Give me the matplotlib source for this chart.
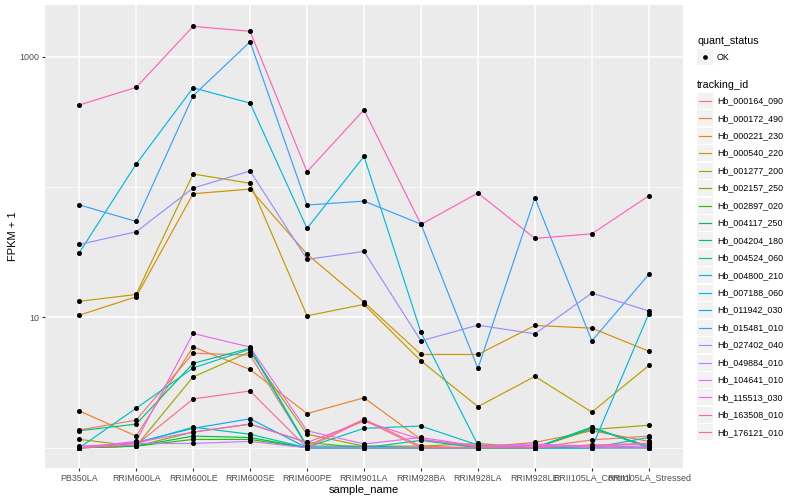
import numpy as np
import matplotlib.pyplot as plt
from matplotlib.patches import Rectangle
from matplotlib.lines import Line2D

plt.rcParams['font.family'] = ['Liberation Sans', 'DejaVu Sans']

samples = ["PB350LA", "RRIM600LA", "RRIM600LE", "RRIM600SE", "RRIM600PE",
           "RRIM901LA", "RRIM928BA", "RRIM928LA", "RRIM928LE",
           "RRII105LA_Control", "RRII105LA_Stressed"]

tracking_ids = ["Hb_000164_090", "Hb_000172_490", "Hb_000221_230", "Hb_000540_220",
                "Hb_001277_200", "Hb_002157_250", "Hb_002897_020", "Hb_004117_250",
                "Hb_004204_180", "Hb_004524_060", "Hb_004800_210", "Hb_007188_060",
                "Hb_011942_030", "Hb_015481_010", "Hb_027402_040", "Hb_049884_010",
                "Hb_104641_010", "Hb_115513_030", "Hb_163508_010", "Hb_176121_010"]

# ggplot default hue palette for 20 levels
colors = ["#F8766D", "#EA8331", "#D89000", "#C09B00", "#A3A500", "#7CAE00",
          "#39B600", "#00BB4E", "#00BF7D", "#00C1A3", "#00BFC4", "#00BAE0",
          "#00B0F6", "#35A2FF", "#9590FF", "#C77CFF", "#E76BF3", "#FA62DB",
          "#FF62BC", "#FF6C91"]

# FPKM per tracking_id, one value per sample
fpkm = {
    "Hb_000164_090": [0.37, 0.63, 4.32, 4.14, 0.03, 0.66, 0.03, 0.0, 0.0, 0.15, 0.23],
    "Hb_000172_490": [0.92, 0.23, 4.95, 2.99, 0.83, 1.42, 0.16, 0.01, 0.10, 0.35, 0.12],
    "Hb_000221_230": [9.4, 13.4, 87.9, 95.6, 29.6, 12.1, 4.2, 4.2, 7.68, 7.28, 4.51],
    "Hb_000540_220": [12.3, 14.0, 125, 106, 9.3, 11.6, 3.64, 1.07, 2.53, 0.88, 3.28],
    "Hb_001277_200": [0.16, 0.03, 2.50, 4.45, 0.27, 0.03, 0.03, 0.08, 0.0, 0.38, 0.49],
    "Hb_002157_250": [0.0, 0.03, 0.32, 0.52, 0.10, 0.0, 0.0, 0.0, 0.0, 0.05, 0.0],
    "Hb_002897_020": [0.0, 0.03, 0.16, 0.16, 0.0, 0.0, 0.0, 0.0, 0.0, 0.0, 0.0],
    "Hb_004117_250": [0.0, 0.03, 0.23, 0.20, 0.0, 0.0, 0.0, 0.0, 0.0, 0.44, 0.0],
    "Hb_004204_180": [0.35, 0.52, 3.44, 4.81, 0.03, 0.03, 0.0, 0.0, 0.0, 0.41, 0.03],
    "Hb_004524_060": [0.0, 0.08, 0.44, 0.27, 0.0, 0.0, 0.14, 0.0, 0.0, 0.44, 0.0],
    "Hb_004800_210": [0.0, 1.01, 3.10, 4.71, 0.01, 0.41, 0.47, 0.05, 0.0, 0.0, 0.20],
    "Hb_007188_060": [30.3, 149, 577, 440, 47.2, 171, 6.67, 0.05, 0.0, 0.0, 9.7],
    "Hb_011942_030": [0.0, 0.10, 0.41, 0.67, 0.0, 0.0, 0.0, 0.0, 0.0, 0.0, 0.0],
    "Hb_015481_010": [72.1, 53.5, 501, 1302, 71.8, 77.1, 51, 3.06, 81.8, 5.61, 20.4],
    "Hb_027402_040": [35.3, 44.4, 97.3, 132, 26.9, 31.1, 5.61, 7.73, 6.48, 14.4, 10.2],
    "Hb_049884_010": [0.03, 0.08, 0.08, 0.12, 0.0, 0.0, 0.0, 0.0, 0.05, 0.0, 0.0],
    "Hb_104641_010": [0.0, 0.12, 6.54, 4.92, 0.35, 0.07, 0.20, 0.03, 0.07, 0.03, 0.03],
    "Hb_115513_030": [0.0, 0.10, 0.32, 0.52, 0.10, 0.60, 0.16, 0.03, 0.03, 0.03, 0.08],
    "Hb_163508_010": [425, 581, 1709, 1566, 130, 391, 50.7, 89, 39.4, 42.8, 84.7],
    "Hb_176121_010": [0.0, 0.05, 1.37, 1.73, 0.0, 0.63, 0.0, 0.0, 0.0, 0.05, 0.08],
}

fig = plt.figure(figsize=(8, 5), dpi=100)
W, H = 800, 500
ax = fig.add_axes([45 / W, 1 - 468 / H, (683 - 45) / W, (468 - 5) / H])
ax.set_facecolor('#EBEBEB')

x = np.arange(len(samples))
for tid, col in zip(tracking_ids, colors):
    y = np.array(fpkm[tid]) + 1
    ax.plot(x, y, color=col, lw=0.85, zorder=3)
for tid in tracking_ids:
    y = np.array(fpkm[tid]) + 1
    ax.plot(x, y, 'o', color='black', ms=2.6, zorder=4)

ax.set_yscale('log')
ax.set_ylim(0.70, 2494)
ax.set_xlim(-0.6, len(samples) - 0.4)

ax.set_yticks([10, 1000])
ax.set_yticklabels(['10', '1000'])
ax.set_yticks([1, 100], minor=True)
ax.yaxis.set_minor_formatter(plt.NullFormatter())
ax.set_xticks(x)
ax.set_xticklabels(samples)

ax.grid(which='major', color='white', lw=1.1, zorder=1)
ax.grid(which='minor', axis='y', color='white', lw=0.55, zorder=1)
ax.tick_params(which='major', length=2.5, width=0.8, color='#333333',
               labelsize=6.4, labelcolor='#4D4D4D', pad=1.5)
ax.tick_params(which='minor', length=0)
for s in ax.spines.values():
    s.set_visible(False)
ax.set_axisbelow(True)

ax.set_xlabel('sample_name', fontsize=8, labelpad=2)
ax.set_ylabel('FPKM + 1', fontsize=8)
ax.yaxis.set_label_coords((18 - 45) / (683 - 45), 0.5)


# legend drawn in figure pixels, ggplot-style
def px(xp, yp):
    return xp / W, 1 - yp / H


def key_box(yc):
    x0, y0 = px(697, yc + 8)
    fig.add_artist(Rectangle((x0, y0), 16 / W, 16 / H, transform=fig.transFigure,
                             facecolor='#F2F2F2', edgecolor='none'))


fig.text(*px(697, 40.5), 'quant_status', fontsize=7.7, va='center', ha='left')
key_box(57)
fig.add_artist(Line2D([705 / W], [1 - 57 / H], transform=fig.transFigure,
                      marker='o', color='black', ms=2.4, ls='none'))
fig.text(*px(717, 57), 'OK', fontsize=6.4, va='center', ha='left')

fig.text(*px(697, 84.5), 'tracking_id', fontsize=7.7, va='center', ha='left')
for i, (tid, col) in enumerate(zip(tracking_ids, colors)):
    yc = 100.8 + i * 17.45
    key_box(yc)
    fig.add_artist(Line2D([699 / W, 711 / W], [1 - yc / H] * 2, transform=fig.transFigure,
                          color=col, lw=0.85))
    fig.text(*px(717, yc), tid, fontsize=6.4, va='center', ha='left')

fig.savefig('out.png', dpi=100)
